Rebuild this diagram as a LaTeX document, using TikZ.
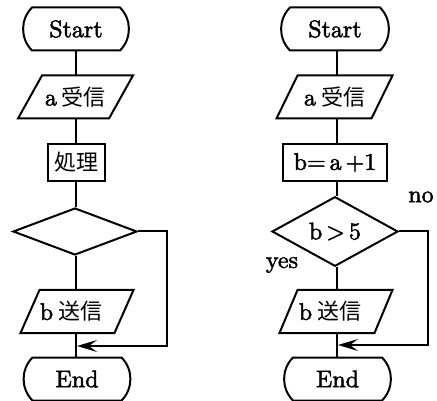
\documentclass[tikz,border=0pt]{standalone}
\usepackage{fontspec}
\newfontfamily\heavy{lmroman10-regular.otf}[FakeBold=2]
\newfontfamily\jp{Noto Sans CJK JP}
\usetikzlibrary{shapes.geometric,arrows.meta}
\newcommand\termdraw[1]{\draw ([xshift=9pt]#1.north west) -- ([xshift=-9pt]#1.north east) to[bend left=45] ([xshift=-9pt]#1.south east) -- ([xshift=9pt]#1.south west) to[bend left=45] ([xshift=9pt]#1.north west) -- cycle;}
\newcommand\paradraw[2]{\draw ([xshift=#2]#1.north west) -- ([xshift=#2]#1.north east) -- ([xshift=-#2]#1.south east) -- ([xshift=-#2]#1.south west) -- cycle;}
\newcommand\ja[1]{{\jp\fontsize{22}{24}\selectfont #1}}
\begin{document}
\begin{tikzpicture}[x=1pt,y=-1pt, line width=2pt, line join=miter,
  base/.style={inner sep=0pt, font=\heavy\fontsize{24}{26}\selectfont},
  term/.style={base, minimum width=#1, minimum height=41pt},
  para/.style={base, minimum width=#1, minimum height=41pt},
  procbox/.style={base, draw, minimum width=#1, minimum height=37pt},
  decision/.style={base, draw, diamond, minimum width=#1, minimum height=47pt, inner sep=0pt},
  lab/.style={base},
  flow/.style={line width=2pt},
  back/.style={line width=2pt, -{Stealth[length=20pt,width=12pt,inset=8pt]}}]
\useasboundingbox (0,0) rectangle (437,401);

% left chart
\node[term=104] (ls) at (76,29) {Start};
\node[para=89] (lr) at (75.5,97) {a\hspace{5pt}\ja{受信}};
\node[procbox=57] (lp) at (76.5,162.5) {\ja{処理}};
\node[decision=124] (ld) at (75,231.5) {};
\node[para=92] (lw) at (77,311.5) {\hspace*{-12pt}b\hspace{5pt}\ja{送信}};
\node[term=105] (le) at (77,379) {End};
\termdraw{ls}
\paradraw{lr}{12pt}
\paradraw{lw}{9.5pt}
\termdraw{le}
\coordinate (lm) at (76,346);
\draw[flow] (ls.south -| 76,0) -- (lr.north -| 76,0);
\draw[flow] (lr.south -| 76,0) -- (lp.north -| 76,0);
\draw[flow] (lp.south -| 76,0) -- (ld.north -| 76,0);
\draw[flow] (ld.south -| 76,0) -- (lw.north -| 76,0);
\draw[flow] (lw.south -| 76,0) -- (le.north -| 76,0);
\draw[back] (ld.east) -- (167,231.5) |- ([xshift=1pt]lm);

% right chart
\node[term=106] (rs) at (335,29) {Start};
\node[para=93] (rr) at (334.5,97) {a\hspace{5pt}\ja{受信}};
\node[procbox=104] (rp) at (335,162.5) {b=\,a\,+1};
\node[decision=126] (rd) at (335,231.5) {b\,>\,5};
\node[para=93] (rw) at (336,311.5) {\hspace*{-12pt}b\hspace{5pt}\ja{送信}};
\node[term=105] (re) at (337.5,379) {End};
\termdraw{rs}
\paradraw{rr}{10.5pt}
\paradraw{rw}{9pt}
\termdraw{re}
\coordinate (rm) at (337,345);
\draw[flow] (rs.south -| 337,0) -- (rr.north -| 337,0);
\draw[flow] (rr.south -| 337,0) -- (rp.north -| 337,0);
\draw[flow] (rp.south -| 337,0) -- (rd.north -| 337,0);
\draw[flow] (rd.south -| 337,0) -- (rw.north -| 337,0);
\draw[flow] (rw.south -| 337,0) -- (re.north -| 337,0);
\draw[back] (rd.east) -- (428,231.5) |- ([xshift=1pt]rm);
\node[lab] (yes) at (282,265) {yes};
\node[lab] (no) at (421,197) {no};
\end{tikzpicture}
\end{document}
